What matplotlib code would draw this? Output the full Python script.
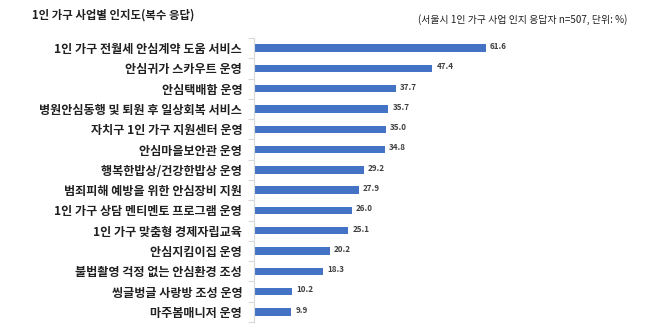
import matplotlib
matplotlib.use("Agg")
import matplotlib.pyplot as plt
import numpy as np

plt.rcParams['font.family'] = ['Noto Sans CJK KR', 'DejaVu Sans']

categories = [
    "1인 가구 전월세 안심계약 도움 서비스",
    "안심귀가 스카우트 운영",
    "안심택배함 운영",
    "병원안심동행 및 퇴원 후 일상회복 서비스",
    "자치구 1인 가구 지원센터 운영",
    "안심마을보안관 운영",
    "행복한밥상/건강한밥상 운영",
    "범죄피해 예방을 위한 안심장비 지원",
    "1인 가구 상담 멘티멘토 프로그램 운영",
    "1인 가구 맞춤형 경제자립교육",
    "안심지킴이집 운영",
    "불법촬영 걱정 없는 안심환경 조성",
    "씽글벙글 사랑방 조성 운영",
    "마주봄매니저 운영",
]
values = [61.6, 47.4, 37.7, 35.7, 35.0, 34.8, 29.2, 27.9, 26.0, 25.1, 20.2, 18.3, 10.2, 9.9]
title = "1인 가구 사업별 인지도(복수 응답)"
note = "(서울시 1인 가구 사업 인지 응답자 n=507, 단위: %)"

fig = plt.figure(figsize=(6.6, 3.34), dpi=100)
ax = fig.add_axes([254/660, 1-322/334, 376/660, 284/334])

y = np.arange(len(categories))
ax.barh(y, values, height=0.36, color='#4472C4')
ax.set_ylim(len(categories)-0.5, -0.5)
ax.set_xlim(0, 100)

for yi, v in zip(y, values):
    ax.text(v + 1.1, yi - 0.08, f"{v:.1f}", va='center', ha='left',
            fontsize=5.8, fontweight='bold', color='#404040')

ax.set_yticks(y)
ax.set_yticklabels(categories, fontsize=8.7, fontweight='bold', color='#202020')
ax.tick_params(axis='y', which='major', length=0, pad=8.5)
ax.set_yticks(np.arange(-0.5, len(categories), 1), minor=True)
ax.tick_params(axis='y', which='minor', length=4, color='#d9d9d9', width=0.8)
ax.set_xticks([])
for s in ['top', 'right', 'bottom']:
    ax.spines[s].set_visible(False)
ax.spines['left'].set_color('#d9d9d9')
ax.spines['left'].set_linewidth(0.8)

fig.text(32/660, 1-15/334, title, fontsize=8.2, fontweight='bold', color='#202020',
         ha='left', va='center')
fig.text(627/660, 1-20/334, note, fontsize=7.1, color='#202020', ha='right', va='center')

fig.savefig("out.png", dpi=100)
